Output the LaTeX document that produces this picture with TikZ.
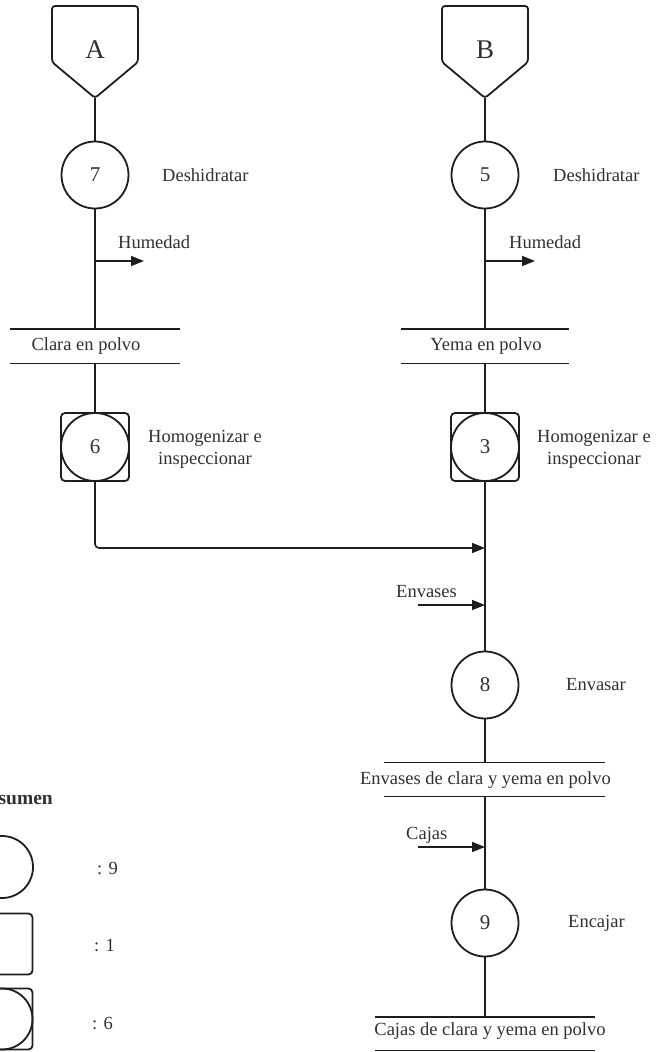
\documentclass[tikz,border=0pt]{standalone}
\usepackage{fontspec}
\setmainfont{Liberation Serif}
\usetikzlibrary{arrows.meta}
\definecolor{ink}{HTML}{1E1E1E}
\definecolor{txt}{HTML}{303030}

\begin{document}
\begin{tikzpicture}[x=1pt,y=-1pt,
  every node/.style={text=txt, font=\fontsize{18.5}{22}\selectfont},
  line/.style={draw=ink, line width=1.6pt},
  flow/.style={line, -{Triangle[length=13pt,width=10pt]}},
  op/.style={circle, draw=ink, line width=1.8pt, minimum size=67pt, inner sep=0pt,
    font=\fontsize{21}{24}\selectfont},
  insp/.style={rectangle, rounded corners=4pt, draw=ink, line width=1.8pt,
    minimum size=68pt, inner sep=0pt},
  store/.style={minimum height=34pt, inner sep=0pt},
  storeline/.style={draw=ink, line width=1.4pt},
  lbl/.style={anchor=west, inner sep=0pt},
  note/.style={anchor=west, align=center, inner sep=0pt},
  conn/.style={font=\fontsize{27}{30}\selectfont},
  legend/.style={draw=ink, line width=1.8pt, inner sep=0pt}
]
\useasboundingbox (0,0) rectangle (656,1052);
\clip (0,0) rectangle (656,1052);

% ---------- off-page connectors ----------
\node[conn] (A) at (95,50) {A};
\draw[line, line width=1.8pt, rounded corners=3pt]
  (95,6) -- (138,6) -- (138,62) -- (95,98) -- (52,62) -- (52,6) -- cycle;
\coordinate (Atip) at (95,98);

\node[conn] (B) at (485,50) {B};
\draw[line, line width=1.8pt, rounded corners=3pt]
  (485,6) -- (528,6) -- (528,62) -- (485,98) -- (442,62) -- (442,6) -- cycle;
\coordinate (Btip) at (485,98);

% ---------- left branch: egg white ----------
\node[op] (o7) at (95,175) {7};
\node[lbl] (d7) at (162,175) {Deshidratar};
\coordinate (h7) at (95,261);
\coordinate (h7e) at (144,261);
\node[lbl] (hl7) at (118,242) {Humedad};

\node[store, minimum width=170pt] (s1) at (95,346) {};
\node (t1) at (86,346) {Clara en polvo};

\node[insp] (q6) at (95,447) {};
\node[op, minimum size=68pt] (o6) at (95,447) {6};
\node[note] (n6) at (148,449) {Homogenizar e\\inspeccionar};

% ---------- right branch: egg yolk ----------
\node[op] (o5) at (485,175) {5};
\node[lbl] (d5) at (553,175) {Deshidratar};
\coordinate (h5) at (485,261);
\coordinate (h5e) at (535,261);
\node[lbl] (hl5) at (509,242) {Humedad};

\node[store, minimum width=167pt] (s2) at (485,346) {};
\node (t2) at (486,346) {Yema en polvo};

\node[insp] (q3) at (485,447) {};
\node[op, minimum size=68pt] (o3) at (485,447) {3};
\node[note] (n3) at (537,449) {Homogenizar e\\inspeccionar};

% ---------- packing ----------
\coordinate (m1) at (485,548);
\coordinate (e0) at (418,605);
\coordinate (e1) at (485,605);
\node[lbl] (le) at (396,592) {Envases};

\node[op] (o8) at (485,685) {8};
\node[lbl] (d8) at (566,685) {Envasar};

\node[store, minimum width=221pt] (s3) at (494.5,779.5) {};
\node (t3) at (485.5,780) {Envases de clara y yema en polvo};

\coordinate (c0) at (418,847);
\coordinate (c1) at (485,847);
\node[lbl] (lc) at (406,835) {Cajas};

\node[op] (o9) at (485,923) {9};
\node[lbl] (d9) at (568,923) {Encajar};

\node[store, minimum width=220pt, minimum height=33pt] (s4) at (485,1033.5) {};
\node (t4) at (490,1031) {Cajas de clara y yema en polvo};

% ---------- storage bars ----------
\foreach \s in {s1,s2,s3,s4}
  \draw[storeline] (\s.north west) -- (\s.north east)
                   (\s.south west) -- (\s.south east);

% ---------- flow lines ----------
\draw[line] (Atip) -- (o7);
\draw[line] (o7) -- (s1.north);
\draw[flow] (h7) -- (h7e);
\draw[line] (s1.south) -- (q6.north);
\draw[flow, rounded corners=4pt] (q6.south) |- (m1);

\draw[line] (Btip) -- (o5);
\draw[line] (o5) -- (s2.north);
\draw[flow] (h5) -- (h5e);
\draw[line] (s2.south) -- (q3.north);
\draw[line] (q3.south) -- (o8.north);
\draw[flow] (e0) -- (e1);

\draw[line] (o8) -- (s3.north -| o8);
\draw[line] (s3.south -| o8) -- (o9.north);
\draw[flow] (c0) -- (c1);
\draw[line] (o9) -- (s4.north -| o9);

% ---------- summary ----------
\node[anchor=east, inner sep=0pt, font=\bfseries\fontsize{19.5}{23}\selectfont]
  (res) at (53,798) {Resumen};
\node[legend, circle, minimum size=62pt] (k1) at (2,867) {};
\node[lbl] (v1) at (97,868) {: 9};
\node[legend, rectangle, rounded corners=4pt, minimum size=61pt] (k2) at (2,944) {};
\node[lbl] (v2) at (94,946) {: 1};
\node[legend, rectangle, rounded corners=4pt, minimum size=61pt] (k3) at (2,1019) {};
\node[legend, circle, minimum size=61pt] (k3c) at (2,1019) {};
\node[lbl] (v3) at (92,1023) {: 6};
\end{tikzpicture}
\end{document}
